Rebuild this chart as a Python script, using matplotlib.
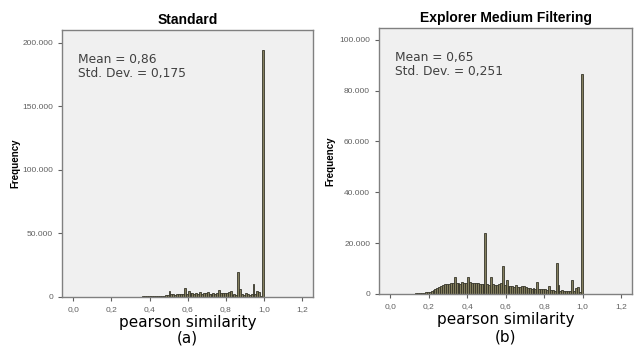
import numpy as np
import matplotlib
matplotlib.use("Agg")
import matplotlib.pyplot as plt
from matplotlib.ticker import FixedLocator

plt.rcParams["font.family"] = ["Liberation Sans", "DejaVu Sans"]

# bin width 0.01, bins listed by their left edge
left_start = 0.30
standard_counts = [
    100, 150, 200, 250, 300, 350, 400, 450, 500, 550,
    600, 650, 700, 750, 800, 900, 1000, 1100, 1200, 1300,
    4500, 2500, 2000, 1800, 2200, 2000, 2500, 2300, 7000, 2500,
    5000, 2800, 3500, 2500, 3200, 2600, 3800, 2700, 3300, 3000,
    4000, 2600, 2400, 2800, 2500, 3000, 5500, 3500, 3200, 3000,
    3500, 4000, 5000, 1500, 2000, 1800, 19500, 6500, 2000, 1800,
    3000, 2000, 1500, 2500, 10000, 2000, 4500, 4000, 1000, 194500,
]

right_start = 0.10
explorer_counts = [
    50, 80, 100, 150, 200, 300, 400, 500, 600, 700,
    900, 1200, 1600, 2000, 2400, 2800, 3100, 3400, 3700, 3900,
    4000, 4200, 4100, 6500, 4300, 4200, 4000, 4500, 4300, 4400,
    6800, 4500, 4300, 4400, 4200, 4300, 4000, 3900, 3700, 24000,
    3800, 3600, 6500, 3700, 3500, 3400, 3800, 4200, 11000, 3300,
    5500, 3000, 2900, 3100, 2700, 3300, 2800, 2600, 3200, 3000,
    2800, 2400, 2300, 2000, 2200, 2100, 4500, 2000, 1900, 1800,
    1900, 1700, 3000, 1500, 1600, 1200, 12000, 3500, 1300, 1400,
    1200, 1100, 1000, 1300, 5500, 1000, 2500, 2800, 600, 86500,
]

x_ticks = [0.0, 0.2, 0.4, 0.6, 0.8, 1.0, 1.2]
x_tick_labels = ["0,0", "0,2", "0,4", "0,6", "0,8", "1,0", "1,2"]

panels = [
    dict(title="Standard", start=left_start, counts=standard_counts,
         yticks=[0, 50000, 100000, 150000, 200000],
         ylabels=["0", "50.000", "100.000", "150.000", "200.000"],
         ylim=210000, stats="Mean = 0,86\nStd. Dev. = 0,175", tag="(a)",
         rect=[0.098, 0.149, 0.396, 0.765], ylab_x=-0.167, tag_y=-0.155),
    dict(title="Explorer Medium Filtering", start=right_start, counts=explorer_counts,
         yticks=[0, 20000, 40000, 60000, 80000, 100000],
         ylabels=["0", "20.000", "40.000", "60.000", "80.000", "100.000"],
         ylim=104700, stats="Mean = 0,65\nStd. Dev. = 0,251", tag="(b)",
         rect=[0.598, 0.158, 0.399, 0.762], ylab_x=-0.174, tag_y=-0.162),
]

fig = plt.figure(figsize=(6.34, 3.49), dpi=100)
fig.patch.set_facecolor("white")

for p in panels:
    ax = fig.add_axes(p["rect"])
    ax.set_facecolor("#f0f0f0")
    edges = p["start"] + 0.01 * np.arange(len(p["counts"]))
    ax.bar(edges, p["counts"], width=0.01, align="edge",
           color="#847f5e", edgecolor="#36352a", linewidth=0.6)
    ax.set_xlim(-0.058, 1.258)
    ax.set_ylim(0, p["ylim"])
    ax.xaxis.set_major_locator(FixedLocator(x_ticks))
    ax.set_xticklabels(x_tick_labels)
    ax.yaxis.set_major_locator(FixedLocator(p["yticks"]))
    ax.set_yticklabels(p["ylabels"])
    ax.tick_params(labelsize=6, labelcolor="#606060", color="#606060",
                   length=3, width=0.8)
    for s in ax.spines.values():
        s.set_color("#808080")
        s.set_linewidth(1.0)
    ax.set_title(p["title"], fontsize=10, fontweight="bold", pad=4)
    ax.set_ylabel("Frequency", fontsize=7, fontweight="bold")
    ax.yaxis.set_label_coords(p["ylab_x"], 0.5)
    ax.set_xlabel("pearson similarity", fontsize=11, family="DejaVu Sans")
    ax.xaxis.set_label_coords(0.5, -0.068)
    ax.text(0.064, 0.915, p["stats"], transform=ax.transAxes, fontsize=8.8,
            family="DejaVu Sans", color="#404040", va="top", ha="left",
            linespacing=1.15)
    ax.text(0.5, p["tag_y"], p["tag"], transform=ax.transAxes, fontsize=11,
            family="DejaVu Sans", ha="center", va="center")

fig.savefig("out.png", dpi=100)
